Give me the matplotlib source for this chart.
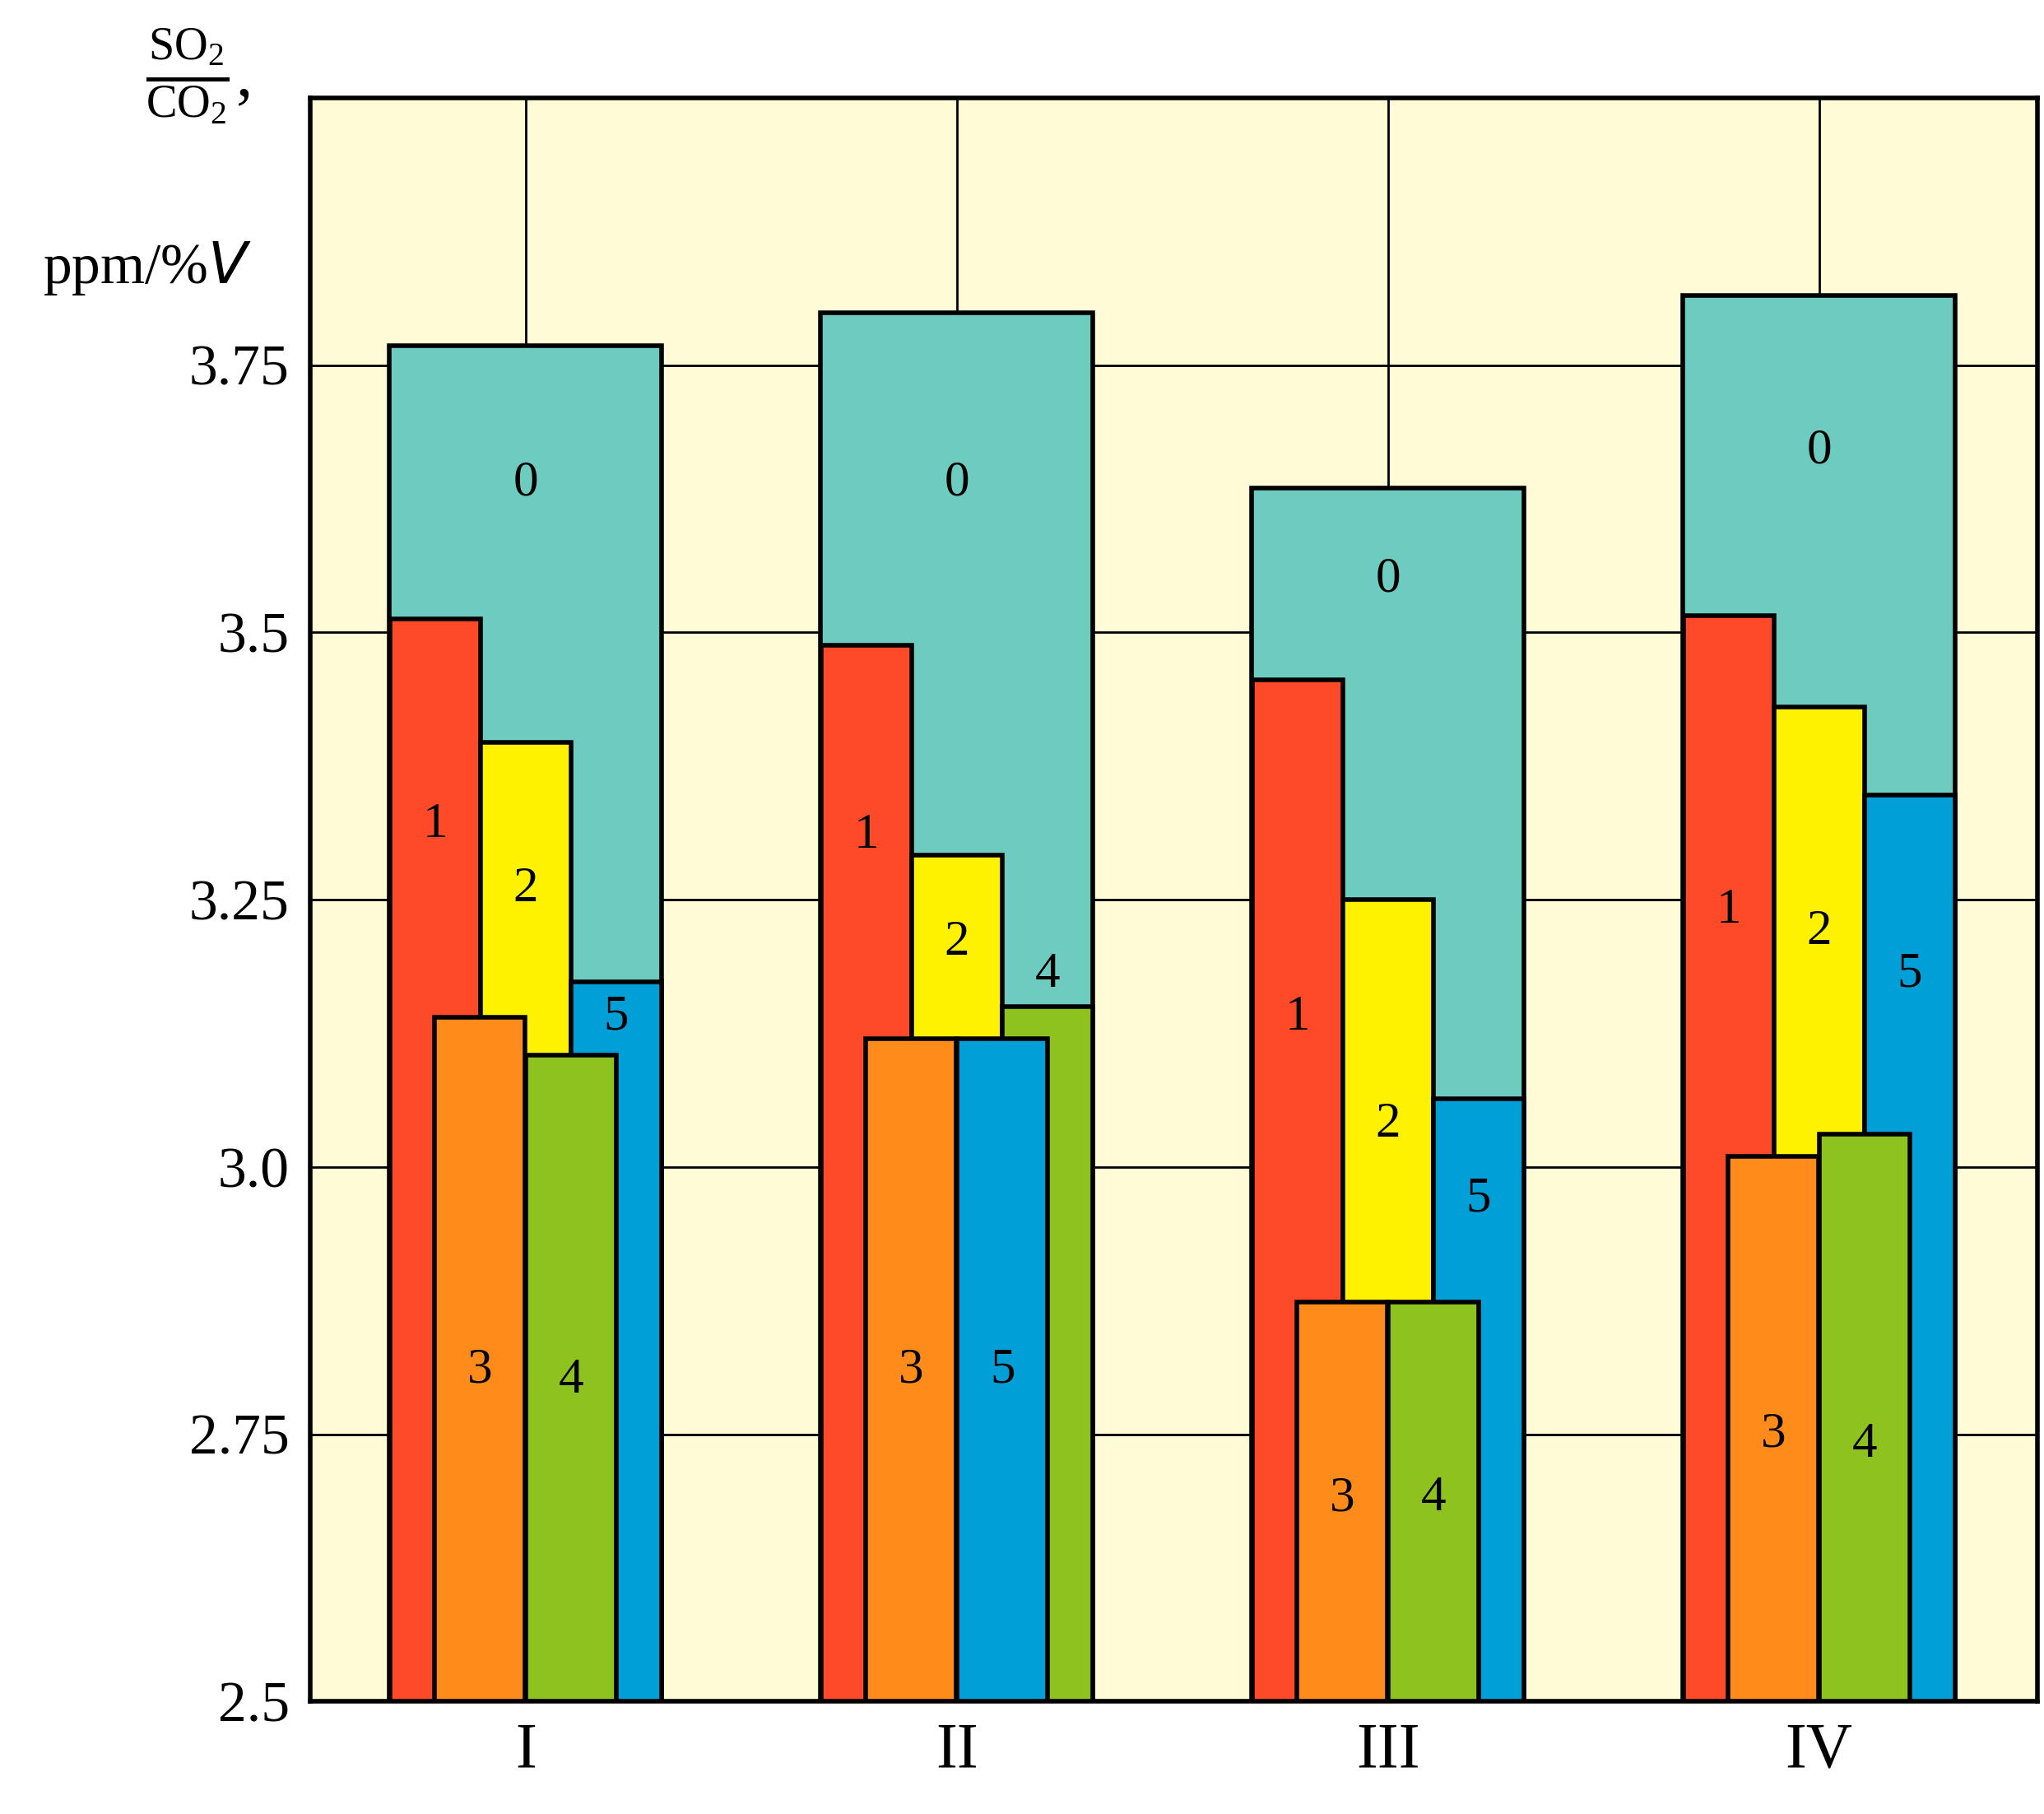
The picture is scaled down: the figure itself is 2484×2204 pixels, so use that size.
import matplotlib
matplotlib.use("Agg")
import matplotlib.pyplot as plt

groups = ["I", "II", "III", "IV"]
# per group: (label, slot, value, label_y)
bars_I = [("0", "W", 3.768, 3.64), ("1", "L", 3.513, 3.32), ("2", "M", 3.397, 3.26),
          ("5", "R", 3.173, 3.14), ("3", "a", 3.140, 2.81), ("4", "b", 3.105, 2.80)]
bars_II = [("0", "W", 3.799, 3.64), ("1", "L", 3.488, 3.31), ("2", "M", 3.292, 3.21),
           ("4", "R", 3.150, 3.18), ("3", "a", 3.120, 2.81), ("5", "b", 3.120, 2.81)]
bars_III = [("0", "W", 3.635, 3.55), ("1", "L", 3.456, 3.14), ("2", "M", 3.250, 3.04),
            ("5", "R", 3.064, 2.97), ("3", "a", 2.874, 2.69), ("4", "b", 2.874, 2.69)]
bars_IV = [("0", "W", 3.815, 3.67), ("1", "L", 3.516, 3.24), ("2", "M", 3.430, 3.22),
           ("5", "R", 3.348, 3.18), ("3", "a", 3.010, 2.75), ("4", "b", 3.031, 2.74)]
all_bars = [bars_I, bars_II, bars_III, bars_IV]
yticks = [2.5, 2.75, 3.0, 3.25, 3.5, 3.75]
ytick_labels = ["2.5", "2.75", "3.0", "3.25", "3.5", "3.75"]

colors = {"0": "#6ECBBF", "1": "#FF4A2A", "2": "#FFF200", "3": "#FF8C1A",
          "4": "#8DC21F", "5": "#009FD8"}
slots = {"W": (0.0, 0.631), "L": (-0.21, 0.21), "M": (0.0, 0.21), "R": (0.21, 0.21),
         "a": (-0.106, 0.21), "b": (0.106, 0.21)}

plt.rcParams["font.family"] = "Liberation Serif"
fig = plt.figure(figsize=(24.84, 22.04), dpi=100)
ax = fig.add_axes([0.1517, 0.062, 0.845, 0.884])
ax.set_facecolor("#FFFBD6")
base = 2.5
for i, bars in enumerate(all_bars):
    c = i + 1
    for lab, slot, val, ly in bars:
        off, w = slots[slot]
        ax.bar(c + off, val - base, width=w, bottom=base, color=colors[lab],
               edgecolor="black", linewidth=4, zorder=3)
        ax.text(c + off, ly, lab, ha="center", va="center", fontsize=44, zorder=4)

ax.set_xlim(0.5, 4.506)
ax.set_ylim(2.5, 4.0)
ax.set_xticks(range(1, 5))
ax.set_xticklabels(groups, fontsize=56)
ax.set_yticks(yticks)
ax.set_yticklabels(ytick_labels, fontsize=50)
ax.tick_params(length=0, pad=18)
ax.grid(True, color="black", linewidth=2, zorder=1)
for s in ax.spines.values():
    s.set_linewidth(4)

fig.text(0.097, 0.958, r"$\mathregular{\frac{SO_2}{CO_2}}$,", fontsize=58, ha="center", va="center")
fig.text(0.072, 0.852, "ppm/%$\\mathit{V}$", fontsize=50, ha="center", va="center")
fig.savefig("out.png", dpi=100)
